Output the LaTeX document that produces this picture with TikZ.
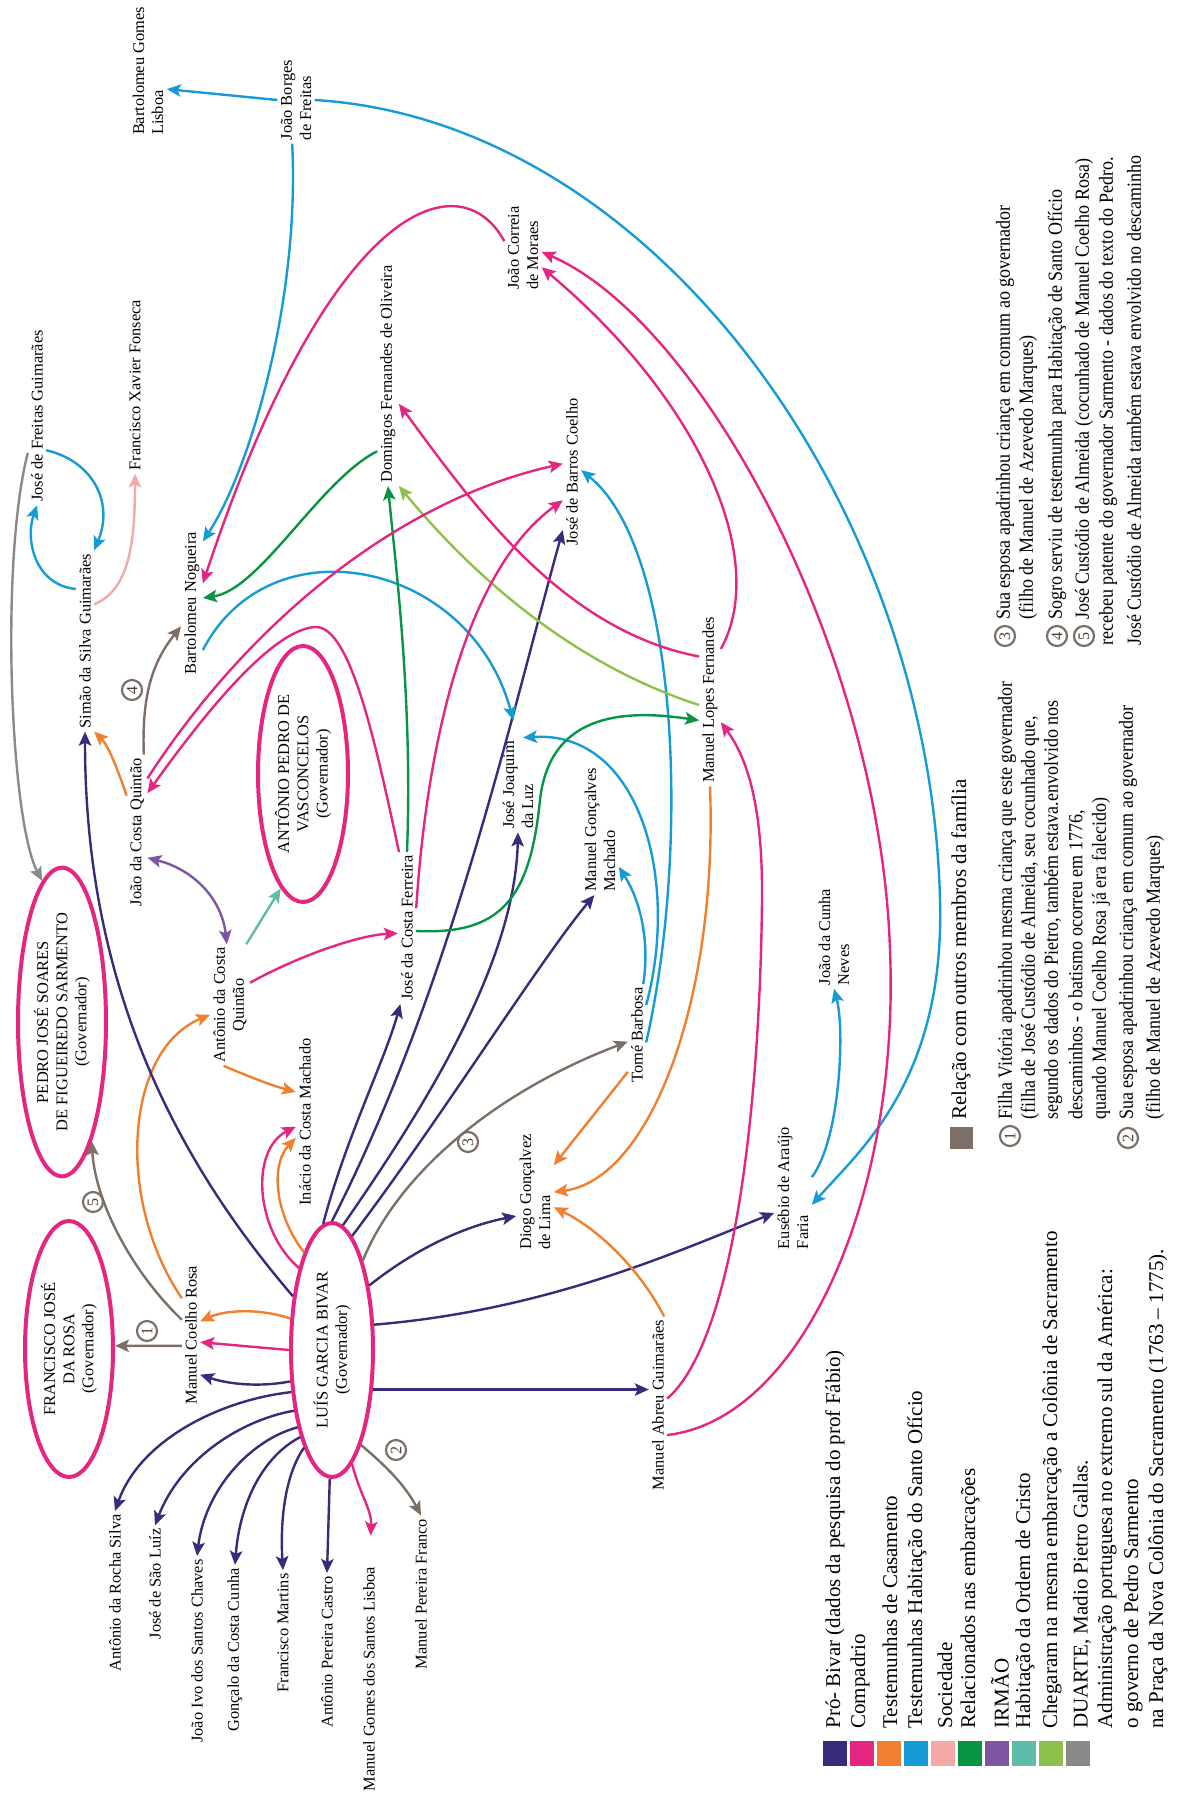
\documentclass[tikz,border=0pt]{standalone}
\usepackage{fontspec}
\setmainfont{Liberation Serif}
\newfontfamily\notefont[FakeStretch=0.9]{Liberation Serif}
\usetikzlibrary{arrows.meta,shapes.geometric}
\definecolor{cbivar}{RGB}{58,42,122}
\definecolor{ccomp}{RGB}{228,38,128}
\definecolor{ccas}{RGB}{240,128,48}
\definecolor{chab}{RGB}{22,155,215}
\definecolor{csoc}{RGB}{245,168,168}
\definecolor{cemb}{RGB}{8,148,68}
\definecolor{cirm}{RGB}{125,85,160}
\definecolor{cord}{RGB}{95,188,168}
\definecolor{cche}{RGB}{142,192,76}
\definecolor{cdua}{RGB}{138,138,138}
\definecolor{cfam}{RGB}{125,110,102}
\def\lblfont{\fontsize{8.2}{9.6}\selectfont}
\def\legfont{\fontsize{10.5}{12}\selectfont}
\def\ntfont{\notefont\fontsize{10}{12}\selectfont}
\tikzset{
	pers/.style={rotate=90, font=\lblfont, inner sep=1.5pt, align=left},
	gov/.style={ellipse, draw=ccomp, line width=2pt, fill=white, rotate=90, inner sep=0pt, align=center, font=\lblfont},
	num/.style={circle, draw=cfam, line width=1.1pt, inner sep=0pt, minimum size=10pt, rotate=90, font=\fontsize{8}{8}\selectfont, text=black!75},
	lnk/.style={line width=1.2pt, ->},
	bivar/.style={lnk, draw=cbivar},
	comp/.style={lnk, draw=ccomp},
	cas/.style={lnk, draw=ccas},
	hab/.style={lnk, draw=chab},
	soc/.style={lnk, draw=csoc},
	emb/.style={lnk, draw=cemb},
	irm/.style={lnk, draw=cirm},
	ord/.style={lnk, draw=cord},
	che/.style={lnk, draw=cche},
	dua/.style={lnk, draw=cdua},
	fam/.style={lnk, draw=cfam},
	leg/.style={rotate=90, anchor=west, font=\legfont, inner sep=0pt},
	note/.style={rotate=90, anchor=west, font=\ntfont, inner sep=0pt}
}

\begin{document}
\begin{tikzpicture}[x=0.5pt, y=-0.5pt, >={Stealth[length=7pt,width=6.2pt,inset=1.5pt]}]
			%%%%% START %%%%%
			\useasboundingbox (0,0) rectangle (1180,1794);
			
			% governadores
			\node[gov, minimum width=128pt, minimum height=44pt] (fjr) at (69,1349) {FRANCISCO JOSÉ\\DA ROSA\\(Governador)};
			\node[gov, minimum width=127pt, minimum height=41pt] (lgb) at (332,1350) {LUÍS GARCIA BIVAR\\(Governador)};
			\node[gov, minimum width=129pt, minimum height=44pt] (pjs) at (62,1022) {PEDRO JOSÉ SOARES\\DE FIGUEIREDO SARMENTO\\(Governador)};
			\node[gov, minimum width=128pt, minimum height=45pt] (apv) at (303,774) {ANTÔNIO PEDRO DE\\VASCONCELOS\\(Governador)};
			
			% pessoas
			\node[pers] (mcr) at (191,1335) {Manuel Coelho Rosa};
			\node[pers] (ars) at (115,1593) {Antônio da Rocha Silva};
			\node[pers] (jsl) at (155,1584) {José de São Luíz};
			\node[pers] (jisc) at (197,1651) {João Ivo dos Santos Chaves};
			\node[pers] (gcc) at (235,1650) {Gonçalo da Costa Cunha};
			\node[pers] (fm) at (283,1633) {Francisco Martins};
			\node[pers] (apc) at (327,1652) {Antônio Pereira Castro};
			\node[pers] (mgsl) at (369,1679) {Manuel Gomes dos Santos Lisboa};
			\node[pers] (mpf) at (421,1594) {Manuel Pereira Franco};
			\node[pers] (ina) at (305,1122) {Inácio da Costa Machado};
			\node[pers, align=center] (acq) at (230,1005) {Antônio da Costa\\Quintão};
			\node[pers] (jcq) at (137,832) {João da Costa Quintão};
			\node[pers] (sim) at (85,641) {Simão da Silva Guimarães};
			\node[pers] (jfg) at (37,416) {José de Freitas Guimarães};
			\node[pers] (fxf) at (135,385) {Francisco Xavier Fonseca};
			\node[pers] (bn) at (192,603) {Bartolomeu Nogueira};
			\node[pers] (dfo) at (388,374) {Domingos Fernandes de Oliveira};
			\node[pers] (jbc) at (572,472) {José de Barros Coelho};
			\node[pers] (jcm) at (523,248) {João Correia\\de Moraes};
			\node[pers] (jbf) at (296,100) {João Borges\\de Freitas};
			\node[pers] (bgl) at (148,71) {Bartolomeu Gomes\\Lisboa};
			\node[pers] (jjl) at (518,785) {José Joaquim\\da Luz};
			\node[pers] (mgm) at (600,830) {Manuel Gonçalves\\Machado};
			\node[pers] (mlf) at (710,700) {Manuel Lopes Fernandes};
			\node[pers] (jcf) at (407,928) {José da Costa Ferreira};
			\node[pers] (tb) at (637,1035) {Tomé Barbosa};
			\node[pers] (dgl) at (535,1192) {Diogo Gonçalvez\\de Lima};
			\node[pers] (jcn) at (834,937) {João da Cunha\\Neves};
			\node[pers] (eaf) at (793,1188) {Eusébio de Araújo\\Faria};
			\node[pers] (mag) at (658,1405) {Manuel Abreu Guimarães};
			
			\node[num] (n1) at (147,1331) {1};
			\node[num] (n2) at (396,1450) {2};
			\node[num] (n3) at (468,1142) {3};
			\node[num] (n4) at (132,690) {4};
			\node[num] (n5) at (93,1202) {5};
			
			% Bivar
			\draw[bivar] (lgb.136) .. controls (220,1400) and (140,1440) .. (ars.east);
			\draw[bivar] (lgb.148) .. controls (240,1420) and (180,1460) .. (jsl.east);
			\draw[bivar] (lgb.156) .. controls (250,1440) and (205,1490) .. (jisc.east);
			\draw[bivar] (lgb.160) .. controls (265,1455) and (240,1500) .. (gcc.east);
			\draw[bivar] (lgb.164) .. controls (285,1475) and (280,1520) .. (fm.east);
			\draw[bivar] (lgb.179) -- (apc.east);
			\draw[comp, shorten >=14pt] (lgb.-170) .. controls (360,1495) and (372,1510) .. (mgsl.east);
			\draw[fam] (lgb.-163) .. controls (385,1465) and (405,1485) .. (mpf.east);
			\draw[cas] (lgb.53) .. controls (260,1308) and (225,1310) .. (mcr.-34);
			\draw[comp] (lgb.90) -- (mcr.-128);
			\draw[bivar] (lgb.127) .. controls (255,1388) and (225,1383) .. (mcr.-167);
			\draw[fam] (mcr.140) -- (fjr.-86);
			\draw[fam] (mcr.31) .. controls (130,1270) and (95,1200) .. (pjs.-166);
			\draw[cas] (mcr.14) .. controls (115,1200) and (125,1050) .. (acq.116);
			\draw[bivar] (lgb.36) .. controls (150,1130) and (85,950) .. (sim.west);
			\draw[comp] (lgb.22) .. controls (255,1230) and (250,1150) .. (ina.117);
			\draw[cas] (lgb.16) .. controls (275,1215) and (270,1165) .. (ina.150);
			\draw[cas] (acq.174) .. controls (245,1075) and (270,1085) .. (ina.17);
			\draw[comp] (acq.-42) .. controls (300,955) and (360,935) .. (jcf.120);
			\draw[ord] (acq.-15) -- (apv.169);
			\draw[irm, <->] (jcq.-158) .. controls (195,870) and (222,900) .. (acq.3);
			\draw[bivar] (lgb.4) .. controls (345,1140) and (385,1060) .. (jcf.175);
			\draw[bivar] (lgb.-5) .. controls (430,1100) and (515,960) .. (jjl.west);
			\draw[bivar] (lgb.0) .. controls (450,990) and (510,720) .. (jbc.171);
			\draw[bivar] (lgb.-10) .. controls (440,1120) and (540,960) .. (mgm.175);
			\draw[fam] (lgb.-19) .. controls (400,1170) and (500,1090) .. (tb.126);
			\draw[bivar] (lgb.-30) .. controls (420,1245) and (470,1225) .. (dgl.142);
			\draw[bivar] (lgb.-59) .. controls (550,1310) and (680,1250) .. (eaf.143);
			\draw[bivar] (lgb.-134) -- (lgb.-134 -| mag.north);
			
			% casamento
			\draw[cas] (mag.-4) .. controls (640,1270) and (600,1230) .. (dgl.-129);
			\draw[cas] (tb.166) -- (dgl.-35);
			\draw[cas] (mlf.west) .. controls (718,1000) and (650,1180) .. (dgl.south);
			\draw[cas] (jcq.16) .. controls (118,770) and (108,745) .. (sim.south west);
			\draw[fam] (jcq.-5) .. controls (142,700) and (150,665) .. (bn.155);
			\draw[dua] (jfg.166) .. controls (0,560) and (10,820) .. (pjs.8);
			
			% habitacao
			\draw[hab] (sim.10) .. controls (35,585) and (25,540) .. (jfg.west);
			\draw[hab] (jfg.-165) .. controls (90,460) and (115,500) .. (sim.south east);
			\draw[soc] (sim.-14) .. controls (130,590) and (135,540) .. (fxf.west);
			\draw[hab, shorten >=9pt] (bn.-167) .. controls (270,520) and (470,560) .. (jjl.east);
			\draw[hab] (jbf.175) .. controls (300,300) and (250,470) .. (bn.-10);
			\draw[hab] (jbf.north) -- (bgl.-134);
			\draw[hab] (jbf.south) .. controls (650,120) and (930,500) .. (940,900) .. controls (945,1080) and (860,1150) .. (eaf.-132);
			\draw[hab] (tb.-7) .. controls (650,940) and (640,900) .. (mgm.-153);
			\draw[hab] (tb.-17) .. controls (680,880) and (640,730) .. (jjl.-6);
			\draw[hab] (tb.-129) .. controls (690,850) and (680,550) .. (jbc.-78);
			\draw[hab] (eaf.-60) .. controls (840,1140) and (845,1030) .. (jcn.west);
			
			% embarcacoes
			\draw[emb] (jcf.east) .. controls (413,700) and (395,560) .. (dfo.west);
			\draw[emb] (dfo.172) .. controls (320,480) and (260,590) .. (bn.-65);
			\draw[emb] (jcf.-108) .. controls (500,935) and (530,900) .. (540,800) .. controls (550,710) and (630,710) .. (mlf.152);
			\draw[che] (mlf.115) .. controls (560,660) and (460,560) .. (dfo.south west);
			
			% compadrio
			\draw[comp] (jcm.70) .. controls (460,160) and (330,200) .. (bn.-29);
			\draw[comp] (mlf.14) .. controls (560,630) and (470,500) .. (dfo.-160);
			\draw[comp] (mlf.-12) .. controls (770,560) and (700,400) .. (jcm.-136);
			\draw[comp] (mag.-163) .. controls (800,1420) and (900,1200) .. (890,950) .. controls (880,650) and (700,320) .. (jcm.-102);
			\draw[comp] (mag.-55) .. controls (735,1340) and (760,1100) .. (762,900) .. controls (763,800) and (745,755) .. (mlf.-154);
			\draw[comp] (jcq.-11) .. controls (250,620) and (400,500) .. (jbc.48);
			\draw[comp] (jcf.-25) .. controls (430,700) and (480,560) .. (jbc.162);
			\draw[comp] (jcf.6) .. controls (375,740) and (350,625) .. (315,627) .. controls (270,630) and (200,720) .. (jcq.-15);
			
			% legenda
			\fill[cbivar] (823,1741) rectangle (847,1766);
			\fill[ccomp] (850,1741) rectangle (874,1766);
			\fill[ccas] (877,1741) rectangle (901,1766);
			\fill[chab] (904,1741) rectangle (928,1766);
			\fill[csoc] (931,1741) rectangle (955,1766);
			\fill[cemb] (958,1741) rectangle (982,1766);
			\fill[cirm] (985,1741) rectangle (1009,1766);
			\fill[cord] (1012,1741) rectangle (1036,1766);
			\fill[cche] (1039,1741) rectangle (1063,1766);
			\fill[cdua] (1066,1741) rectangle (1090,1766);
			\node[leg] (l1) at (835,1729) {Pró- Bivar (dados da pesquisa do prof Fábio)};
			\node[leg] (l2) at (860,1729) {Compadrio};
			\node[leg] (l3) at (890,1729) {Testemunhas de Casamento};
			\node[leg] (l4) at (917,1729) {Testemunhas Habitação do Santo Ofício};
			\node[leg] (l5) at (945,1729) {Sociedade};
			\node[leg] (l6) at (970,1729) {Relacionados nas embarcações};
			\node[leg] (l7) at (1000,1729) {IRMÃO};
			\node[leg] (l8) at (1025,1729) {Habitação da Ordem de Cristo};
			\node[leg] (l9) at (1052,1729) {Chegaram na mesma embarcação a Colônia de Sacramento};
			\node[leg] (l10) at (1082,1729) {DUARTE, Madio Pietro Gallas.};
			\node[leg] (l11) at (1107,1729) {Administração portuguesa no extremo sul da América:};
			\node[leg] (l12) at (1133,1729) {o governo de Pedro Sarmento};
			\node[leg] (l13) at (1158,1729) {na Praça da Nova Colônia do Sacramento (1763 – 1775).};
			
			% notas
			\fill[cfam] (950,1127) rectangle (973,1149);
			\node[leg, font=\fontsize{10.5}{12}\selectfont] (rel) at (961,1120) {Relação com outros membros da família};
			\node[num] (f1) at (1010,1136) {1};
			\node[note] (f1a) at (1007,1120) {Filha Vitória apadrinhou mesma criança que este governador};
			\node[note] (f1b) at (1030,1120) {(filha de José Custódio de Almeida, seu cocunhado que,};
			\node[note] (f1c) at (1053,1120) {segundo os dados do Pietro, também estava.envolvido nos};
			\node[note] (f1d) at (1077,1120) {descaminhos - o batismo ocorreu em 1776,};
			\node[note] (f1e) at (1101,1120) {quando Manuel Coelho Rosa já era falecido)};
			\node[num] (f2) at (1128,1138) {2};
			\node[note] (f2a) at (1128,1120) {Sua esposa apadrinhou criança em comum ao governador};
			\node[note] (f2b) at (1155,1120) {(filho de Manuel de Azevedo Marques)};
			\node[num] (f3) at (1005,636) {3};
			\node[note] (f3a) at (1005,620) {Sua esposa apadrinhou criança em comum ao governador};
			\node[note] (f3b) at (1028,620) {(filho de Manuel de Azevedo Marques)};
			\node[num] (f4) at (1057,636) {4};
			\node[note] (f4a) at (1057,620) {Sogro serviu de testemunha para Habitação de Santo Ofício};
			\node[num] (f5) at (1084,636) {5};
			\node[note] (f5a) at (1084,620) {José Custódio de Almeida (cocunhado de Manuel Coelho Rosa)};
			\node[note] (f5b) at (1108,646) {recebeu patente do governador Sarmento - dados do texto do Pedro.};
			\node[note] (f5c) at (1134,646) {José Custódio de Almeida também estava envolvido no descaminho};
			
			%%%%% END %%%%%
\end{tikzpicture}
\end{document}
